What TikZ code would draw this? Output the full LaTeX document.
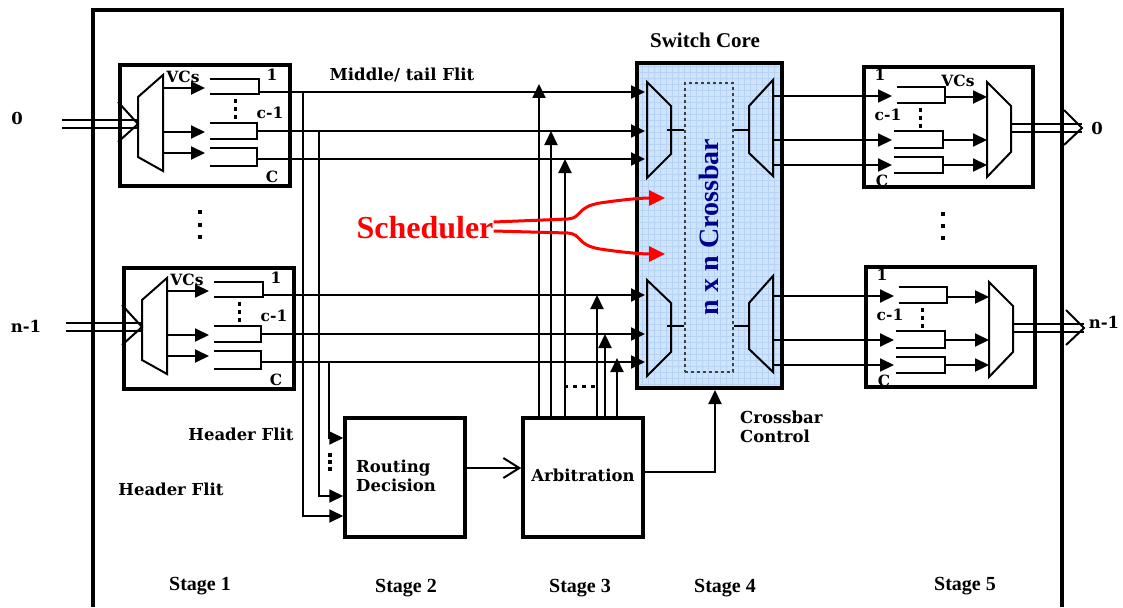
\documentclass[tikz,border=0pt]{standalone}
\usepackage{fontspec}
\newfontfamily\timesf{Liberation Serif}
\newfontfamily\wideserif{DejaVu Serif}
\usetikzlibrary{arrows.meta}
\definecolor{xblue}{RGB}{206,228,250}
\definecolor{xgrid}{RGB}{182,210,244}
\definecolor{navyt}{RGB}{0,0,140}
\definecolor{schred}{RGB}{255,0,0}
\tikzset{
  ln/.style={line width=2pt},
  arr/.style={ln,-{Triangle[length=14pt,width=13pt]}},
  blk/.style={draw,line width=4pt,inner sep=0pt},
  lab/.style={font=\wideserif\bfseries\fontsize{16.5}{20}\selectfont,inner sep=0pt},
  slab/.style={font=\wideserif\bfseries\fontsize{15.5}{18}\selectfont,inner sep=0pt},
  tlab/.style={font=\timesf\bfseries\fontsize{20}{22}\selectfont,inner sep=0pt},
  inbuf/.pic={
    \draw[ln] (62,120) -- (138,120) (62,128) -- (138,128);
    \draw[ln] (118,102) -- (138,124) -- (118,142);
    \node[blk,minimum width=170pt,minimum height=121pt] (-box) at (205,125.5) {};
    \draw[ln] (138,97) -- (163,75) -- (163,171) -- (138,157) -- cycle;
    \draw[arr] (163,88) -- (205,88);
    \draw[arr] (163,132) -- (205,132);
    \draw[arr] (163,153) -- (205,153);
    \draw[ln] (210,79) -| (259,94) -- (210,94);
    \draw[ln] (210,123) -| (257,139) -- (210,139);
    \draw[ln] (210,148) -| (257,166) -- (210,166);
    \coordinate (-a) at (259,92);
    \coordinate (-b) at (257,131);
    \coordinate (-c) at (257,159);
    \node[slab] (-vc) at (183,77) {VCs};
    \node[slab] (-l1) at (272,75) {1};
    \node[slab] (-lc1) at (270,113) {c-1};
    \node[slab] (-lC) at (272,177) {C};
    \foreach \yy in {101,109,117} \fill (233.5,\yy-1.8) rectangle ++(3.5,3.5);
  },
  outbuf/.pic={
    \node[slab] (-lC) at (882,181) {C};
    \node[blk,minimum width=169pt,minimum height=120pt] (-box) at (948.5,127) {};
    \coordinate (-a) at (892,96);
    \coordinate (-b) at (892,140);
    \coordinate (-c) at (892,165);
    \draw[ln] (897,87) -| (945,103) -- (897,103);
    \draw[ln] (894,131) -| (943,148) -- (894,148);
    \draw[ln] (894,157) -| (943,173) -- (894,173);
    \draw[arr] (945,97) -- (987,97);
    \draw[arr] (943,140) -- (987,140);
    \draw[arr] (943,165) -- (987,165);
    \draw[ln] (987,82) -- (1011,106) -- (1011,152) -- (987,177) -- cycle;
    \draw[ln] (1011,124) -- (1082,124) (1011,132) -- (1082,132);
    \draw[ln] (1064,110) -- (1082,128) -- (1064,145);
    \node[slab] (-l1) at (880,75) {1};
    \node[slab] (-lc1) at (888,115) {c-1};
    \foreach \yy in {110,118,126} \fill (918.5,\yy-1.8) rectangle ++(3.5,3.5);
  }
}
\begin{document}
\begin{tikzpicture}[x=1pt,y=-1pt]
\useasboundingbox (0,0) rectangle (1123,607);
% outer frame
\draw[line width=3.5pt] (93,607) -- (93,10) -- (1062,10) -- (1062,607);

% crossbar
\node[blk,fill=xblue,minimum width=145pt,minimum height=325pt] (xbar) at (709.5,225.5) {};
\begin{scope}
  \clip (639.5,65.5) rectangle (779.5,385.5);
  \draw[xgrid,line width=0.6pt,step=6pt] (630,60) grid (790,390);
\end{scope}
\node[draw=black!75,dashed,line width=1.3pt,inner sep=0pt,minimum width=48pt,minimum height=289pt] (core) at (709,227.5) {};
\draw[ln] (647,82) -- (671,106) -- (671,154) -- (647,178) -- cycle;
\draw[ln] (667,130) -- (core.west |- 0,130);
\draw[ln] (773,80) -- (749,106) -- (749,153) -- (773,176) -- cycle;
\draw[ln] (core.east |- 0,130) -- (750,130);
\draw[ln] (647,280) -- (671,303) -- (671,352) -- (647,376) -- cycle;
\draw[ln] (667,326) -- (core.west |- 0,326);
\draw[ln] (773,276) -- (749,303) -- (749,349) -- (773,372) -- cycle;
\draw[ln] (core.east |- 0,326) -- (750,326);
\node[rotate=90,text=navyt,font=\timesf\bfseries\fontsize{28}{30}\selectfont,inner sep=0pt] (xtxt) at (709,227) {n x n Crossbar};

% buffers
\pic (in0) at (0,0) {inbuf};
\pic (in1) at (4,203) {inbuf};
\pic (out0) at (0,0) {outbuf};
\pic (out1) at (2,200) {outbuf};
\node[slab] (ovc) at (958,81) {VCs};

% port labels
\node[lab] (p0) at (17,118) {0};
\node[lab] (pn) at (26,326) {n-1};
\node[lab] (q0) at (1097,128) {0};
\node[lab] (qn) at (1104,322) {n-1};

% input buffers -> crossbar
\foreach \b in {in0,in1}{
  \foreach \p in {a,b,c}{
    \draw[arr] (\b-\p) -- (645,0 |- \b-\p);
  }
}
% crossbar -> output buffers
\foreach \b in {out0,out1}{
  \foreach \p in {a,b,c}{
    \draw[arr] (773,0 |- \b-\p) -- (\b-\p);
  }
}

% routing / arbitration
\node[draw,line width=3.5pt,inner sep=0pt,minimum width=120pt,minimum height=119pt] (route) at (405,477.5) {};
\node[draw,line width=3.5pt,inner sep=0pt,minimum width=120pt,minimum height=119pt] (arb) at (583,477.5) {};
\node[lab,align=left,anchor=west] (rtxt) at (356,476) {Routing\\[-1pt]Decision};
\node[lab] (atxt) at (583,475) {Arbitration};

% header flit lines to routing
\draw[arr] (303,0 |- in0-a) |- (route.west |- 0,516);
\draw[arr] (319,0 |- in0-b) |- (route.west |- 0,496);
\draw[arr] (329,0 |- in1-c) |- (route.west |- 0,438);
\foreach \yy in {455,462,469} \fill (328,\yy-1.8) rectangle ++(3.5,3.5);

% routing -> arbitration
\draw[ln,-{Straight Barb[length=16pt,width=20pt,line width=2pt]}] (route.east |- 0,468) -- (arb.west |- 0,468);

% arbitration -> crossbar inputs
\draw[arr] (539,0 |- arb.north) -- (539,84);
\draw[arr] (551,0 |- arb.north) -- (551,0 |- in0-b);
\draw[arr] (565,0 |- arb.north) -- (565,0 |- in0-c);
\draw[arr] (597,0 |- arb.north) -- (597,0 |- in1-a);
\draw[arr] (605,0 |- arb.north) -- (605,0 |- in1-b);
\draw[arr] (617,0 |- arb.north) -- (617,358);
\foreach \xx in {566,575,584,593} \fill (\xx-1.8,384.5) rectangle ++(3.5,3.5);

% arbitration -> crossbar control
\draw[arr] (arb.east |- 0,472) -| (715,0 |- xbar.south);
\node[lab,align=left,anchor=west] (cc) at (740,427) {Crossbar\\[-1pt]Control};

% scheduler
\node[text=schred,font=\timesf\bfseries\fontsize{32}{34}\selectfont,inner sep=0pt] (sch) at (425,228) {Scheduler};
\draw[schred,line width=3pt,-{Triangle[length=16pt,width=15pt]}] (sch.east |- 0,222) -- (568,219) .. controls (582,218) and (576,207) .. (600,203) .. controls (620,200) and (640,198) .. (665,198);
\draw[schred,line width=3pt,-{Triangle[length=16pt,width=15pt]}] (sch.east |- 0,231) -- (568,233) .. controls (582,234) and (576,245) .. (600,249) .. controls (620,252) and (640,254) .. (665,254);

% other labels
\node[tlab,font=\timesf\bfseries\fontsize{21}{23}\selectfont] (sc) at (705,40) {Switch Core};
\node[lab] (mt) at (402,75) {Middle/ tail Flit};
\node[lab] (hf1) at (241,434) {Header Flit};
\node[lab] (hf2) at (171,489) {Header Flit};
\node[tlab] (s1) at (200,586) {Stage 1};
\node[tlab] (s2) at (406,588) {Stage 2};
\node[tlab] (s3) at (580,588) {Stage 3};
\node[tlab] (s4) at (725,588) {Stage 4};
\node[tlab] (s5) at (965,586) {Stage 5};

% big dots
\foreach \yy in {212,225,237} \fill (198,\yy-2) rectangle ++(4,4);
\foreach \yy in {214,226,238} \fill (941,\yy-2) rectangle ++(4,4);
\end{tikzpicture}
\end{document}
